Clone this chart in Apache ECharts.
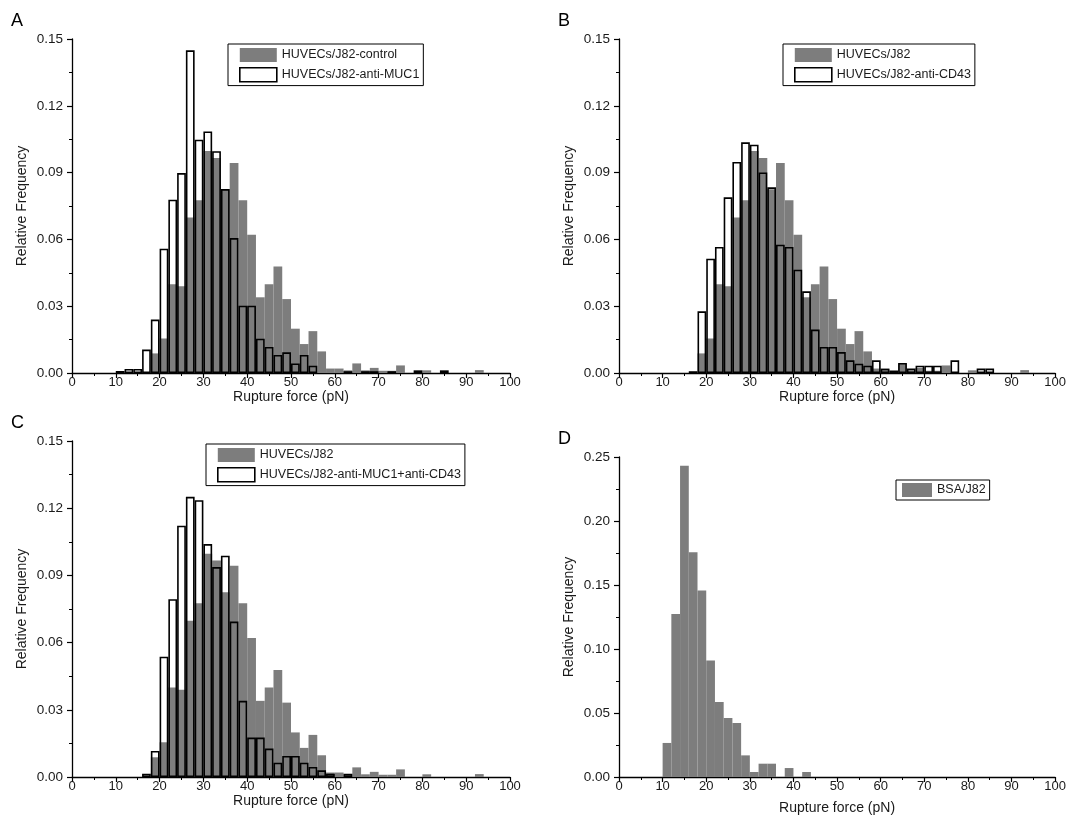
<!DOCTYPE html>
<html>
<head>
<meta charset="utf-8">
<script src="https://cdn.jsdelivr.net/npm/echarts@6/dist/echarts.min.js"></script>
<style>
  html, body { margin: 0; padding: 0; background: #fff; }
  #main { width: 1069px; height: 819px; }
</style>
</head>
<body>
<div id="main"></div>
<script>
// relative frequency per 2 pN bin, bins 0-2, 2-4, ... 98-100
var control = [
    0, 0, 0, 0, 0, 0, 0, 0, 0, 0.0088,
    0.0155, 0.0399, 0.0390, 0.0698, 0.0776, 0.0997, 0.0966, 0.0825, 0.0943, 0.0776,
    0.0621, 0.0340, 0.0399, 0.0478, 0.0332, 0.0199, 0.0130, 0.0188, 0.0097, 0.0020,
    0.0020, 0.0012, 0.0043, 0.0012, 0.0023, 0.0010, 0.0010, 0.0034, 0, 0,
    0.0012, 0, 0, 0, 0, 0, 0.0013, 0, 0, 0
];
var antiMUC1 = [
    0, 0, 0, 0, 0, 0.0009, 0.0018, 0.0018, 0.0105, 0.0240,
    0.0558, 0.0778, 0.0898, 0.1449, 0.1048, 0.1085, 0.0996, 0.0826, 0.0606, 0.0302,
    0.0302, 0.0154, 0.0117, 0.0081, 0.0093, 0.0043, 0.0081, 0.0033, 0, 0,
    0, 0.0008, 0, 0.0008, 0.0008, 0, 0.0008, 0, 0, 0.0012,
    0, 0, 0.0012, 0, 0, 0, 0, 0, 0, 0
];
var antiCD43 = [
    0, 0, 0, 0, 0, 0, 0, 0, 0.0008, 0.0277,
    0.0513, 0.0566, 0.0789, 0.0948, 0.1036, 0.1025, 0.0901, 0.0834, 0.0576, 0.0566,
    0.0464, 0.0367, 0.0195, 0.0117, 0.0117, 0.0094, 0.0057, 0.0042, 0.0033, 0.0057,
    0.0019, 0.0010, 0.0045, 0.0020, 0.0033, 0.0033, 0.0033, 0, 0.0057, 0,
    0, 0.0020, 0.0020, 0, 0, 0, 0, 0, 0, 0
];
var antiBoth = [
    0, 0, 0, 0, 0, 0, 0, 0, 0.0015, 0.0116,
    0.0537, 0.0794, 0.1122, 0.1251, 0.1236, 0.1040, 0.0937, 0.0988, 0.0694, 0.0340,
    0.0176, 0.0176, 0.0127, 0.0064, 0.0094, 0.0094, 0.0064, 0.0045, 0.0030, 0.0015,
    0, 0.0015, 0, 0, 0, 0, 0, 0, 0, 0,
    0, 0, 0, 0, 0, 0, 0, 0, 0, 0
];
var bsa = [
    0, 0, 0, 0, 0, 0.0266, 0.1273, 0.2432, 0.1755, 0.1458,
    0.0911, 0.0586, 0.0461, 0.0422, 0.0169, 0.0039, 0.0104, 0.0104, 0, 0.0070,
    0, 0.0039, 0, 0, 0, 0, 0, 0, 0, 0,
    0, 0, 0, 0, 0, 0, 0, 0, 0, 0,
    0, 0, 0, 0, 0, 0, 0, 0, 0, 0
];
var binStarts = [];
for (var s = 0; s < 100; s += 2) binStarts.push(s);

var panels = [
    {letter: 'A', grid: {left: 72, top: 39, width: 438, height: 334}, ymax: 0.15, yint: 0.03,
     gray: ['HUVECs/J82-control', control], open: ['HUVECs/J82-anti-MUC1', antiMUC1],
     legend: {left: 228, top: 44, pad: [4, 4, 3, 11], w: 37}, xGap: 12},
    {letter: 'B', grid: {left: 619, top: 39, width: 437, height: 334}, ymax: 0.15, yint: 0.03,
     gray: ['HUVECs/J82', control], open: ['HUVECs/J82-anti-CD43', antiCD43],
     legend: {left: 783, top: 44, pad: [4, 4, 3, 11], w: 37}, xGap: 12},
    {letter: 'C', grid: {left: 72, top: 441, width: 438, height: 336}, ymax: 0.15, yint: 0.03,
     gray: ['HUVECs/J82', control], open: ['HUVECs/J82-anti-MUC1+anti-CD43', antiBoth],
     legend: {left: 206, top: 444, pad: [4, 4, 3, 11], w: 37}, xGap: 16},
    {letter: 'D', grid: {left: 619, top: 457, width: 437, height: 320}, ymax: 0.25, yint: 0.05,
     gray: ['BSA/J82', bsa], open: null,
     legend: {left: 896, top: 480, pad: [3, 4, 3, 6], w: 30}, xGap: 24}
];

var grayColor = '#7d7d7d';
var textColor = '#1a1a1a';
var fontFamily = 'Liberation Sans, Arial, sans-serif';

function nz(arr) {
    return arr.map(function (v) { return v > 0 ? v : '-'; });
}

var option = {
    animation: false,
    backgroundColor: '#fff',
    textStyle: {fontFamily: fontFamily},
    grid: [], xAxis: [], yAxis: [], series: [], legend: [], graphic: []
};

panels.forEach(function (p, i) {
    option.grid.push(p.grid);
    // hidden category axis carries the bars, value axis draws the ticks
    option.xAxis.push({
        type: 'category', gridIndex: i, data: binStarts, show: false, boundaryGap: true,
        position: 'top'
    });
    option.xAxis.push({
        type: 'value', gridIndex: i, min: 0, max: 100, interval: 10, position: 'bottom',
        name: 'Rupture force (pN)', nameLocation: 'middle', nameGap: p.xGap,
        nameTextStyle: {fontSize: 14, color: textColor},
        axisLine: {show: true, onZero: false, lineStyle: {color: '#000', width: 1.3}},
        axisTick: {show: true, length: 5, lineStyle: {color: '#000', width: 1.2}},
        minorTick: {show: true, splitNumber: 2, length: 3, lineStyle: {color: '#000', width: 1}},
        splitLine: {show: false},
        axisLabel: {fontSize: 13, color: textColor, margin: 3}
    });
    option.yAxis.push({
        type: 'value', gridIndex: i, min: 0, max: p.ymax, interval: p.yint, position: 'left',
        name: 'Relative Frequency', nameLocation: 'middle', nameGap: 43, nameRotate: 90,
        nameTextStyle: {fontSize: 14, color: textColor},
        axisLine: {show: true, onZero: false, lineStyle: {color: '#000', width: 1.3}},
        axisTick: {show: true, length: 5, lineStyle: {color: '#000', width: 1.2}},
        minorTick: {show: true, splitNumber: 2, length: 3, lineStyle: {color: '#000', width: 1}},
        splitLine: {show: false},
        axisLabel: {fontSize: 13.5, color: textColor, margin: 9,
            formatter: function (v) { return v.toFixed(2); }}
    });

    option.series.push({
        name: p.gray[0], type: 'bar', xAxisIndex: i * 2, yAxisIndex: i,
        data: nz(p.gray[1]), barCategoryGap: '0%', barGap: '-100%',
        itemStyle: {color: grayColor}, z: 2
    });
    var legendData = [{name: p.gray[0], itemStyle: {color: grayColor, borderWidth: 0}}];
    if (p.open) {
        option.series.push({
            name: p.open[0], type: 'bar', xAxisIndex: i * 2, yAxisIndex: i,
            data: nz(p.open[1]), barCategoryGap: '0%', barGap: '-100%',
            itemStyle: {color: 'rgba(255,255,255,0)', borderColor: '#000', borderWidth: 1.6}, z: 3
        });
        legendData.push({name: p.open[0], itemStyle: {color: '#fff', borderColor: '#000', borderWidth: 1.6}});
    }
    option.legend.push({
        left: p.legend.left, top: p.legend.top, orient: 'vertical',
        data: legendData, icon: 'rect', itemWidth: p.legend.w, itemHeight: 14, itemGap: 5,
        padding: p.legend.pad, borderColor: '#000', borderWidth: 1, borderRadius: 0,
        selectedMode: false,
        textStyle: {fontSize: 12.5, color: textColor, padding: [0, 0, 0, 0]}
    });
    option.graphic.push({
        type: 'text', left: p.grid.left - 61, top: p.grid.top - 27,
        style: {text: p.letter, fontSize: 18, fill: '#000', fontFamily: fontFamily}
    });
});

var chart = echarts.init(document.getElementById('main'));
chart.setOption(option);
</script>
</body>
</html>
